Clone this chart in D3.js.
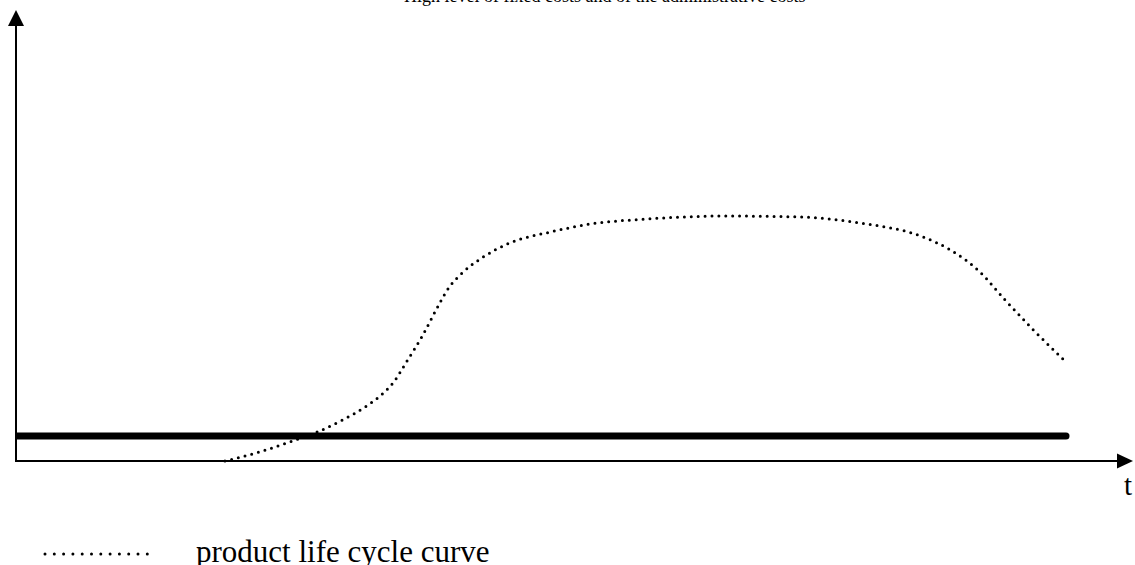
<html>
<head>
<meta charset="utf-8">
<script src="https://d3js.org/d3.v7.min.js"></script>
<style>
    body { margin: 0; background: #fff; }
    svg { display: block; }
    text { font-family: "Liberation Serif", "DejaVu Serif", serif; fill: black; }
    .axis { stroke: black; stroke-width: 2px; fill: none; }
    .arrow { fill: black; }
    .fixed { fill: none; stroke: black; stroke-width: 7px; stroke-linecap: round; }
    .plc { fill: none; stroke: black; stroke-width: 3px; stroke-linecap: round; stroke-dasharray: 0 6.9; }
    .legend-dots { stroke-dasharray: 0 9.3; }
</style>
</head>
<body>
<svg width="1135" height="565"></svg>
<script>
    // time (0..100) and cost level (0..100)
    let titleText = 'High level of fixed costs and of the administrative costs';
    let xLabel = 't';
    let legendLabel = 'product life cycle curve';

    let fixedCost = [[0, 6.25], [100, 6.25]];

    let lifeCycle = [
        [19.9, 0], [23.2, 2.25], [26.3, 5.0], [28.7, 7.25], [31.1, 10.25],
        [33.4, 13.75], [35.0, 17], [35.9, 19.5], [37.3, 25.25], [38.7, 31.25],
        [39.9, 37.25], [41.2, 43.25], [42.6, 47.25], [44.5, 51], [47.0, 54.5],
        [50.9, 57.25], [54.7, 59.25], [60.1, 60.5], [67.7, 61.25], [74.7, 61],
        [80.4, 59.5], [86.4, 56], [89.0, 52.75], [91.8, 47.25], [94.2, 40.25],
        [96.9, 32.75], [100, 24.75]
    ];

    let svg = d3.select('svg');

    let x = d3.scaleLinear().domain([0, 100]).range([16, 1066]);
    let y = d3.scaleLinear().domain([0, 100]).range([461, 61]);

    // title, cut off at the top edge
    svg.append('text')
        .attr('x', 404)
        .attr('y', 2)
        .attr('font-size', 18)
        .text(titleText);

    // axes with arrow heads
    svg.append('line').attr('class', 'axis')
        .attr('x1', x(0)).attr('y1', y(0)).attr('x2', x(0)).attr('y2', 22);
    svg.append('path').attr('class', 'arrow')
        .attr('d', 'M' + x(0) + ',10 L' + (x(0) - 8) + ',26 L' + (x(0) + 8) + ',26 Z');

    svg.append('line').attr('class', 'axis')
        .attr('x1', x(0) - 1).attr('y1', y(0)).attr('x2', 1120).attr('y2', y(0));
    svg.append('path').attr('class', 'arrow')
        .attr('d', 'M1133,' + y(0) + ' L1117,' + (y(0) - 7.5) + ' L1117,' + (y(0) + 7.5) + ' Z');

    svg.append('text')
        .attr('x', 1128)
        .attr('y', 495)
        .attr('font-size', 29)
        .attr('text-anchor', 'middle')
        .text(xLabel);

    let line = d3.line().x(d => x(d[0])).y(d => y(d[1]));

    // fixed costs, clipped so the round cap does not cross the y axis
    svg.append('clipPath').attr('id', 'clip')
        .append('rect').attr('x', x(0)).attr('y', 0).attr('width', 1135).attr('height', 565);

    svg.append('path')
        .attr('class', 'fixed')
        .attr('clip-path', 'url(#clip)')
        .attr('d', line(fixedCost));

    svg.append('path')
        .attr('class', 'plc')
        .attr('d', line.curve(d3.curveMonotoneX)(lifeCycle));

    // legend
    svg.append('line')
        .attr('class', 'plc legend-dots')
        .attr('x1', 45).attr('y1', 554).attr('x2', 148).attr('y2', 554);

    svg.append('text')
        .attr('x', 196)
        .attr('y', 562)
        .attr('font-size', 31)
        .text(legendLabel);
</script>
</body>
</html>
